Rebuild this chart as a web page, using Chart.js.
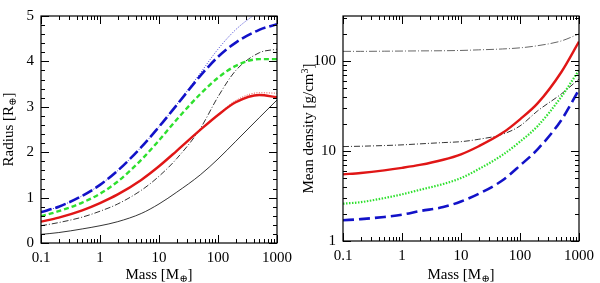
<!DOCTYPE html>
<html>
<head>
<meta charset="utf-8">
<script src="https://cdn.jsdelivr.net/npm/chart.js@4"></script>
<style>
  body { margin: 0; background: #fff; }
  #wrap { position: relative; width: 600px; height: 283px; }
  canvas { position: absolute; top: 0; }
</style>
</head>
<body>
<div id="wrap">
  <canvas id="radius" width="300" height="283" style="left:0;width:300px;height:283px"></canvas>
  <canvas id="density" width="300" height="283" style="left:300px;width:300px;height:283px"></canvas>
</div>
<script>
// planet mass grid (Earth masses)
const masses = [0.1, 0.2, 0.5, 1, 2, 5, 10, 20, 50, 100, 200, 500, 1000];

// left panel: radius [R_earth]
const radBlue      = [0.68, 0.80, 1.04, 1.28, 1.595, 2.11, 2.56, 3.04, 3.68, 4.10, 4.415, 4.695, 4.82];
const radBlueThin  = [0.68, 0.80, 1.04, 1.28, 1.595, 2.11, 2.56, 3.05, 3.74, 4.27, 4.70, 5.10, 5.35];
const radGreen     = [0.59, 0.70, 0.89, 1.085, 1.355, 1.83, 2.26, 2.72, 3.28, 3.64, 3.90, 4.05, 4.05];
const radRed       = [0.47, 0.56, 0.72, 0.88, 1.07, 1.39, 1.69, 2.03, 2.49, 2.82, 3.10, 3.26, 3.21];
const radRedThin   = [0.47, 0.56, 0.72, 0.88, 1.07, 1.39, 1.69, 2.03, 2.49, 2.83, 3.14, 3.31, 3.30];
const radDashDot   = [0.38, 0.45, 0.57, 0.70, 0.86, 1.16, 1.47, 1.86, 2.52, 3.22, 3.80, 4.19, 4.27];
const radSolidThin = [0.19, 0.23, 0.31, 0.38, 0.47, 0.65, 0.86, 1.12, 1.50, 1.85, 2.24, 2.76, 3.15];

// right panel: mean density [g/cm^3]
const denGray      = [128, 128, 128.5, 129, 129.5, 130, 131, 133, 136, 140, 148, 167, 200];
const denRed       = [5.5, 5.7, 6.1, 6.5, 7.0, 8.0, 9.2, 11.3, 15.8, 22.5, 34, 75, 164];
const denDashDot   = [11.2, 11.3, 11.5, 11.7, 12.0, 12.4, 12.7, 13.5, 15.3, 19, 28, 43, 63];
const denGreen     = [2.6, 2.7, 3.0, 3.3, 3.7, 4.3, 5.0, 6.3, 9.0, 12.7, 19, 40, 79];
const denBlue      = [1.7, 1.75, 1.85, 1.96, 2.15, 2.38, 2.75, 3.35, 4.7, 6.9, 10.5, 22, 48];

// tick values
const massTicks = [0.1, 1, 10, 100, 1000];
const radiusTicks = [0, 1, 2, 3, 4, 5];
const densityTicks = [1, 10, 100];

const FONT = "'Liberation Serif', 'DejaVu Serif', serif";

function pts(ys) {
  return masses.map((m, i) => ({ x: m, y: ys[i] }));
}

function line(ys, color, width, dash) {
  return {
    data: pts(ys),
    borderColor: color,
    borderWidth: width,
    borderDash: dash || [],
    pointRadius: 0,
    fill: false,
    cubicInterpolationMode: 'monotone'
  };
}

function logMinors(min, max) {
  const out = [];
  for (let d = Math.floor(Math.log10(min)); d <= Math.ceil(Math.log10(max)); d++) {
    for (let k = 2; k <= 9; k++) {
      const v = k * Math.pow(10, d);
      if (v > min && v < max) out.push(v);
    }
  }
  return out;
}

function drawLabel(ctx, parts, cx, cy, rotate) {
  ctx.save();
  ctx.translate(cx, cy);
  if (rotate) ctx.rotate(-Math.PI / 2);
  let w = 0;
  parts.forEach(p => {
    ctx.font = (p.sub || p.sup ? '10px ' : '15px ') + FONT;
    p.w = ctx.measureText(p.t).width;
    w += p.w;
  });
  let x = -w / 2;
  ctx.fillStyle = '#000';
  ctx.textBaseline = 'middle';
  ctx.textAlign = 'left';
  parts.forEach(p => {
    ctx.font = (p.sub || p.sup ? '10px ' : '15px ') + FONT;
    const dy = p.sub ? 4 : (p.sup ? -4 : 0);
    ctx.fillText(p.t, x, dy);
    x += p.w;
  });
  ctx.restore();
}

// box, inward ticks on all four sides, axis titles
function framePlugin(o) {
  return {
    id: 'frame',
    afterDraw(chart) {
      const { ctx, chartArea: a, scales } = chart;
      const x = scales.x, y = scales.y;
      ctx.save();
      ctx.strokeStyle = '#000';
      ctx.lineWidth = 1.2;
      ctx.strokeRect(a.left, a.top, a.right - a.left, a.bottom - a.top);
      ctx.lineWidth = 1;
      const tx = (v, len) => {
        const p = Math.round(x.getPixelForValue(v)) + 0.5;
        ctx.beginPath();
        ctx.moveTo(p, a.bottom); ctx.lineTo(p, a.bottom - len);
        ctx.moveTo(p, a.top); ctx.lineTo(p, a.top + len);
        ctx.stroke();
      };
      const ty = (v, len) => {
        const p = Math.round(y.getPixelForValue(v)) + 0.5;
        ctx.beginPath();
        ctx.moveTo(a.left, p); ctx.lineTo(a.left + len, p);
        ctx.moveTo(a.right, p); ctx.lineTo(a.right - len, p);
        ctx.stroke();
      };
      o.xMajor.forEach(v => tx(v, 8));
      o.xMinor.forEach(v => tx(v, 4));
      o.yMajor.forEach(v => ty(v, 8));
      o.yMinor.forEach(v => ty(v, 4));
      ctx.restore();
      drawLabel(ctx, o.xTitle, (a.left + a.right) / 2, 275, false);
      drawLabel(ctx, o.yTitle, o.yTitleX, (a.top + a.bottom) / 2, true);
    }
  };
}

function makeChart(el, datasets, yType, yMin, yMax, yTicks, pad, xHeight, yWidth, plugin) {
  return new Chart(document.getElementById(el), {
    type: 'line',
    data: { datasets },
    options: {
      responsive: false,
      animation: false,
      layout: { padding: pad },
      plugins: { legend: { display: false }, tooltip: { enabled: false } },
      scales: {
        x: {
          type: 'logarithmic',
          min: 0.1, max: 1000,
          grid: { display: false, drawTicks: false },
          border: { display: false },
          afterBuildTicks: s => { s.ticks = massTicks.map(v => ({ value: v })); },
          afterFit: s => { s.height = xHeight; },
          ticks: {
            autoSkip: false, maxRotation: 0, padding: 6, color: '#000',
            font: { family: FONT, size: 15 },
            callback: v => String(v)
          }
        },
        y: {
          type: yType,
          min: yMin, max: yMax,
          grid: { display: false, drawTicks: false },
          border: { display: false },
          afterBuildTicks: s => { s.ticks = yTicks.map(v => ({ value: v })); },
          afterFit: s => { s.width = yWidth; },
          ticks: {
            autoSkip: false, padding: 7, color: '#000',
            font: { family: FONT, size: 15 },
            callback: v => String(v)
          }
        }
      }
    },
    plugins: [plugin]
  });
}

const BLUE = '#1212c8', GREEN = '#2ee02e', RED = '#e01616';

// left: radius
makeChart('radius', [
  line(radRed, RED, 2.4),
  line(radGreen, GREEN, 2.4, [5, 3]),
  line(radBlue, BLUE, 2.6, [11, 4]),
  line(radDashDot, '#000', 0.8, [6, 2, 1, 2]),
  line(radSolidThin, '#000', 0.8),
  line(radBlueThin, BLUE, 0.8, [1, 1.5]),
  line(radRedThin, RED, 0.8, [1, 1.5])
], 'linear', 0, 5, radiusTicks, { top: 6, right: 23, bottom: 0, left: 0 }, 40, 41,
  framePlugin({
    xMajor: massTicks, xMinor: logMinors(0.1, 1000),
    yMajor: radiusTicks, yMinor: [...Array(26).keys()].map(i => i * 0.2).filter(v => Math.abs(v - Math.round(v)) > 1e-6),
    xTitle: [{ t: 'Mass [M' }, { t: '⊕', sub: true }, { t: ']' }],
    yTitle: [{ t: 'Radius [R' }, { t: '⊕', sub: true }, { t: ']' }],
    yTitleX: 9
  }));

// right: mean density
makeChart('density', [
  line(denRed, RED, 2.4),
  line(denGreen, GREEN, 2.2, [1.5, 1.5]),
  line(denBlue, BLUE, 2.6, [11, 5]),
  line(denDashDot, '#000', 0.8, [6, 2, 1, 2]),
  line(denGray, '#666', 1, [8, 2, 1, 2])
], 'logarithmic', 1, Math.pow(10, 2.5), densityTicks, { top: 5, right: 17, bottom: 0, left: 0 }, 42, 43,
  framePlugin({
    xMajor: massTicks, xMinor: logMinors(0.1, 1000),
    yMajor: densityTicks, yMinor: logMinors(1, Math.pow(10, 2.5)),
    xTitle: [{ t: 'Mass [M' }, { t: '⊕', sub: true }, { t: ']' }],
    yTitle: [{ t: 'Mean density [g/cm' }, { t: '3', sup: true }, { t: ']' }],
    yTitleX: 9
  }));
</script>
</body>
</html>
